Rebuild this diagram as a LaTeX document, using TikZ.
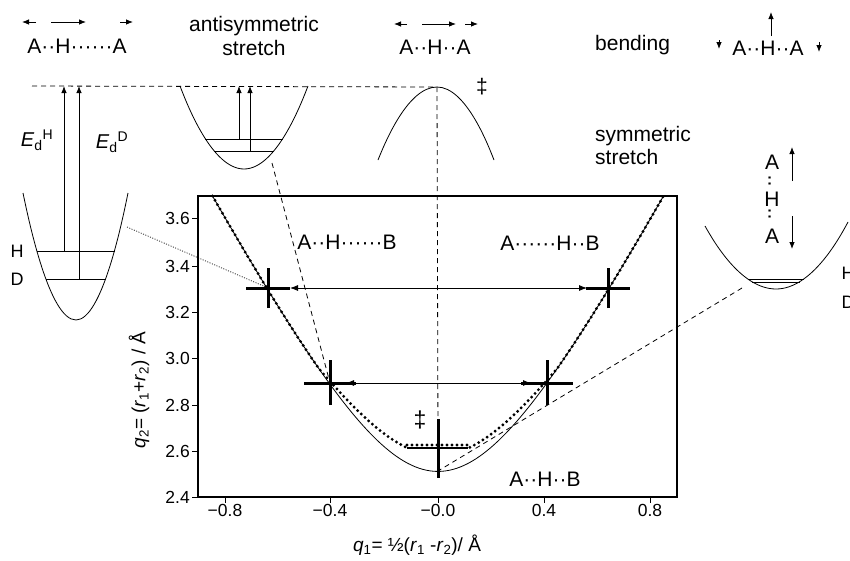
\documentclass[tikz,border=0pt]{standalone}
\usepackage{fontspec}
\setmainfont{Liberation Sans}
\usetikzlibrary{arrows.meta}
\begin{document}
\begin{tikzpicture}[x=1pt,y=-1pt,
  thin/.style={line width=0.8pt},
  framebox/.style={line width=1.2pt},
  crossline/.style={line width=3pt},
  dashline/.style={line width=0.8pt,dash pattern=on 5pt off 4pt},
  dotline/.style={line width=0.7pt,dash pattern=on 1pt off 1.5pt},
  arr/.style={line width=0.8pt,-{Latex[length=7pt,width=5.5pt]}},
  darr/.style={line width=0.8pt,{Latex[length=8pt,width=6pt]}-{Latex[length=8pt,width=6pt]}},
  dotcurve/.style={line width=3.2pt,dash pattern=on 0pt off 5pt,line cap=round},
  lab/.style={inner sep=0pt,font=\fontsize{21}{25}\selectfont},
  smalllab/.style={inner sep=0pt,font=\fontsize{18}{22}\selectfont},
  elab/.style={inner sep=0pt,font=\fontsize{20}{24}\selectfont},
  ticklab/.style={inner sep=0pt,font=\fontsize{17.5}{21}\selectfont},
  tick/.style={line width=1pt}]
\useasboundingbox (0,0) rectangle (850,560);

% ---------- top molecule labels ----------
\node[lab,anchor=base] (m1) at (77,53) {A··H······A};
\coordinate (a1s) at (36,22); \coordinate (a1e) at (22,22);
\coordinate (a2s) at (51,22); \coordinate (a2e) at (86,22);
\coordinate (a3s) at (120,22); \coordinate (a3e) at (133,22);
\draw[arr] (a1s) -- (a1e);
\draw[arr] (a2s) -- (a2e);
\draw[arr] (a3s) -- (a3e);

\node[lab,anchor=base] (anti) at (254,31) {antisymmetric};
\node[lab,anchor=base] (antib) at (254,55) {stretch};

\node[lab,anchor=base] (m2) at (435,54) {A··H··A};
\coordinate (b1s) at (407,24); \coordinate (b1e) at (394,24);
\coordinate (b2s) at (422,24); \coordinate (b2e) at (456,24);
\coordinate (b3s) at (465,24); \coordinate (b3e) at (478,24);
\draw[arr] (b1s) -- (b1e);
\draw[arr] (b2s) -- (b2e);
\draw[arr] (b3s) -- (b3e);

\node[lab,anchor=base west] (bend) at (595,50) {bending};
\node[lab,anchor=base] (m3) at (768,55) {A··H··A};
\coordinate (c1s) at (771,36); \coordinate (c1e) at (771,12);
\coordinate (c2s) at (719,40); \coordinate (c2e) at (719,49);
\coordinate (c3s) at (819,42); \coordinate (c3e) at (819,52);
\draw[arr] (c1s) -- (c1e);
\draw[arr] (c2s) -- (c2e);
\draw[arr] (c3s) -- (c3e);

\node[lab,anchor=base west] (sym1) at (595,141) {symmetric};
\node[lab,anchor=base west] (sym2) at (595,164) {stretch};

% ---------- left big well ----------
\draw[thin] (23,193) parabola bend (76,320) (128,193);
\coordinate (hL) at (37,251); \coordinate (hR) at (115,251);
\coordinate (dL) at (46,279); \coordinate (dR) at (106,279);
\draw[thin] (hL) -- (hR);
\draw[thin] (dL) -- (dR);
\coordinate (eh0) at (64,251); \coordinate (eh1) at (64,86);
\coordinate (ed0) at (79,279); \coordinate (ed1) at (79,86);
\draw[arr] (eh0) -- (eh1);
\draw[arr] (ed0) -- (ed1);
\node[elab] (EH) at (37,140) {\textit{E}\textsubscript{d}\textsuperscript{H}};
\node[elab] (ED) at (112,142) {\textit{E}\textsubscript{d}\textsuperscript{D}};
\node[smalllab] (HL) at (17,251) {H};
\node[smalllab] (DL) at (17,279) {D};

% ---------- small well (antisymmetric) ----------
\draw[thin] (180,86) parabola bend (244,169) (308,86);
\coordinate (shL) at (205,139); \coordinate (shR) at (283,139);
\coordinate (sdL) at (214,151); \coordinate (sdR) at (274,151);
\draw[thin] (shL) -- (shR);
\draw[thin] (sdL) -- (sdR);
\coordinate (sh0) at (239,139); \coordinate (sh1) at (239,86);
\coordinate (sd0) at (250,151); \coordinate (sd1) at (250,86);
\draw[arr] (sh0) -- (sh1);
\draw[arr] (sd0) -- (sd1);

% ---------- transition state barrier ----------
\coordinate (peak) at (437,87);
\draw[thin] (378,160) parabola bend (peak) (494,160);
\node[lab] (dd1) at (482,87) {‡};
\coordinate (hstart) at (32,86);
\draw[dashline] (hstart) -- (peak);

% ---------- right well (symmetric) ----------
\draw[thin] (705,226) parabola bend (776,289) (848,222);
\coordinate (rhL) at (748,279); \coordinate (rhR) at (804,279);
\coordinate (rdL) at (752,282); \coordinate (rdR) at (800,282);
\draw[thin] (rhL) -- (rhR);
\draw[thin] (rdL) -- (rdR);
\node[smalllab] (HR) at (848,273) {H};
\node[smalllab] (DR) at (848,302) {D};
\node[lab] (rA1) at (772,162) {A};
\node[lab,rotate=90] (rd1) at (772,181) {··};
\node[lab] (rH) at (772,199) {H};
\node[lab,rotate=90] (rd2) at (772,214) {··};
\node[lab] (rA2) at (772,236) {A};
\coordinate (ru0) at (792,181); \coordinate (ru1) at (792,147);
\coordinate (rd0) at (792,216); \coordinate (rdd) at (792,249);
\draw[arr] (ru0) -- (ru1);
\draw[arr] (rd0) -- (rdd);

% ---------- plot frame and ticks ----------
\draw[framebox] (198,196) rectangle (677,497);
\foreach \v/\yy in {2.4/497,2.6/451,2.8/405,3.0/358,3.2/312,3.4/266,3.6/218}{
  \draw[tick] (192,\yy) -- (198,\yy);
  \node[ticklab,anchor=east] at (190,\yy) {\v};
}
\foreach \v/\xx in {{−0.8}/225,{−0.4}/330,{−0.0}/438,{0.4}/544,{0.8}/650}{
  \draw[tick] (\xx,497) -- (\xx,503);
  \node[ticklab,anchor=north] at (\xx,504) {\v};
}
\node[lab,rotate=90,font=\fontsize{19}{23}\selectfont] (ylab) at (139,390)
  {\textit{q}\textsubscript{2}= (\textit{r}\textsubscript{1}+\textit{r}\textsubscript{2}) / Å};
\node[lab,font=\fontsize{19}{23}\selectfont] (xlab) at (417,545)
  {\textit{q}\textsubscript{1}= ½(\textit{r}\textsubscript{1} -\textit{r}\textsubscript{2})/ Å};

% ---------- curves ----------
\draw[thin] plot[domain=-0.849:0.849,samples=121]
  ({438+265.6*\x},{497-232.5*(1.63+sqrt(0.7744+4.84*\x*\x)-2.4)});
\draw[dotcurve] plot[domain=-0.849:-0.12,samples=80]
  ({438+265.6*\x},{497-232.5*(1.63+sqrt(0.7744+4.84*\x*\x)+0.07*max(0,1-\x*\x/0.2025)-2.4)});
\draw[dotcurve] plot[domain=0.12:0.849,samples=80]
  ({438+265.6*\x},{497-232.5*(1.63+sqrt(0.7744+4.84*\x*\x)+0.07*max(0,1-\x*\x/0.2025)-2.4)});
\coordinate (flatL) at (407,448); \coordinate (flatR) at (468,448);
\draw[line width=2.5pt] (flatL) -- (flatR);
\draw[dotcurve] (407,445) -- (468,445);

% ---------- crosses ----------
\coordinate (x1) at (268,288);
\coordinate (x2) at (608,288);
\coordinate (x3) at (330,383);
\coordinate (x4) at (547,383);
\coordinate (x0) at (438,448);
\coordinate (qmin) at (438,471);
\foreach \c in {x1,x2}{
  \draw[crossline] ([xshift=-22pt]\c) -- ([xshift=22pt]\c);
  \draw[crossline] ([yshift=-20pt]\c) -- ([yshift=20pt]\c);
}
\foreach \c in {x3,x4}{
  \draw[crossline] ([xshift=-26pt]\c) -- ([xshift=26pt]\c);
  \draw[crossline] ([yshift=-22pt]\c) -- ([yshift=23pt]\c);
}
\draw[crossline] (438,419) -- (438,478);

\draw[darr] ([xshift=22pt]x1) -- ([xshift=-21pt]x2);
\draw[darr] ([xshift=16pt]x3) -- ([xshift=-16pt]x4);

% ---------- plot labels ----------
\node[lab] (lab1) at (347,242) {A··H······B};
\node[lab] (lab2) at (550,243) {A······H··B};
\node[lab] (lab3) at (545,479) {A··H··B};
\node[lab,font=\fontsize{23}{27}\selectfont] (dd2) at (420,420) {‡};

% ---------- correlation lines ----------
\draw[dashline] (peak) -- (x0);
\coordinate (sw) at (272,163);
\draw[dashline] (sw) -- (x3);
\coordinate (lw) at (127,227);
\draw[dotline] (lw) -- (x1);
\coordinate (rw) at (742,288);
\draw[dashline] (rw) -- (qmin);
\end{tikzpicture}
\end{document}
